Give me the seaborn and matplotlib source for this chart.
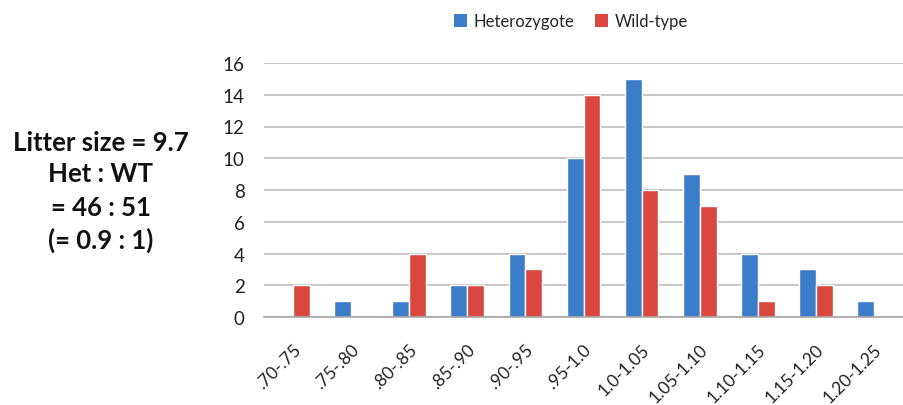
import matplotlib
matplotlib.use("Agg")
import matplotlib.pyplot as plt
import matplotlib.transforms as mtransforms
from matplotlib.patches import Patch
import seaborn as sns
import pandas as pd
import numpy as np

categories = [".70-.75", ".75-.80", ".80-.85", ".85-.90", ".90-.95", ".95-1.0",
              "1.0-1.05", "1.05-1.10", "1.10-1.15", "1.15-1.20", "1.20-1.25"]
heterozygote = [0, 1, 1, 2, 4, 10, 15, 9, 4, 3, 1]
wild_type = [2, 0, 4, 2, 3, 14, 8, 7, 1, 2, 0]
series_names = ["Heterozygote", "Wild-type"]
y_ticks = [0, 2, 4, 6, 8, 10, 12, 14, 16]
side_text = ["Litter size = 9.7", "Het : WT", "= 46 : 51", "(= 0.9 : 1)"]

df = pd.DataFrame({
    "Range": categories * 2,
    "Count": heterozygote + wild_type,
    "Genotype": [series_names[0]] * len(categories) + [series_names[1]] * len(categories),
})

sns.set_theme(style="white")
plt.rcParams["font.family"] = ["Lato", "DejaVu Sans"]

W, H = 904, 406
fig = plt.figure(figsize=(W / 100, H / 100), dpi=100)
ax_left, ax_right, ax_top, ax_bottom = 264, 903, 64, 318
ax = fig.add_axes([ax_left / W, 1 - ax_bottom / H, (ax_right - ax_left) / W, (ax_bottom - ax_top) / H])

palette = {"Heterozygote": "#3b7dc8", "Wild-type": "#d9473f"}
sns.barplot(data=df, x="Range", y="Count", hue="Genotype", palette=palette,
            width=0.58, gap=0, ax=ax, saturation=1, legend=False)

ax.set_xlim(-0.5, (ax_right - ax_left) / 59.0 - 0.5)
ax.set_ylim(0, 16)
ax.set_yticks(y_ticks)
ax.set_yticklabels([str(v) for v in y_ticks], fontsize=13.5, color="#222222")
ax.yaxis.grid(True, color="#bdbdbd", linewidth=1.2)
ax.set_axisbelow(True)
for s in ["top", "right", "left"]:
    ax.spines[s].set_visible(False)
ax.spines["bottom"].set_color("#a6a6a6")
ax.spines["bottom"].set_linewidth(1.2)
ax.tick_params(axis="y", length=0, pad=14)

# category boundary tick marks
ax.set_xticks(np.arange(len(categories) + 1) - 0.5, minor=True)
ax.tick_params(axis="x", which="minor", length=6, color="#a6a6a6", width=1.2, direction="out")
ax.tick_params(axis="x", which="major", length=0, pad=21)
ax.set_xticks(range(len(categories)))
ax.set_xticklabels(categories, fontsize=12.5, rotation=45, ha="right", va="center",
                   rotation_mode="anchor", color="#222222")
offset = mtransforms.ScaledTranslation(5 / 100, 0, fig.dpi_scale_trans)
for lab in ax.get_xticklabels():
    lab.set_transform(lab.get_transform() + offset)
ax.set_xlabel("")
ax.set_ylabel("")

# legend
handles = [Patch(facecolor=palette[n], edgecolor="none") for n in series_names]
fig.legend(handles, series_names, loc="center", bbox_to_anchor=(571 / W, 1 - 22 / H),
           ncol=2, frameon=False, fontsize=12, handlelength=0.8, handleheight=0.8,
           handletextpad=0.4, columnspacing=1.2)

# side annotation
ys = [143, 174, 208, 240]
for t, y in zip(side_text, ys):
    fig.text(101 / W, 1 - y / H, t, ha="center", va="center", fontsize=18.5,
             fontweight="bold", color="#111111")

fig.savefig("out.png", dpi=100)
